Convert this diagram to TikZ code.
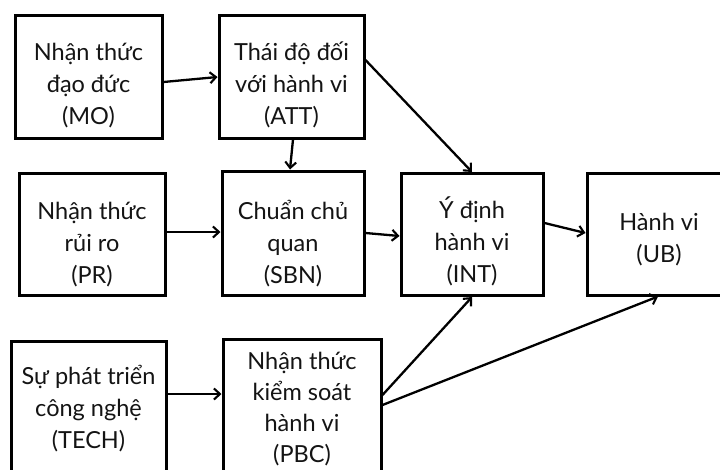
\documentclass[tikz,border=0pt]{standalone}
\usepackage{fontspec}
\setmainfont{Lato}
\usetikzlibrary{arrows.meta}
\definecolor{ink}{HTML}{141414}
% stacked, centred lines whose baseline is the last line
\newcommand\stacklines[1]{\begin{tabular}[b]{@{}c@{}}#1\end{tabular}}
\tikzset{
  box/.style={draw=black, line width=3pt, rectangle, inner sep=0pt,
    text=ink, font=\fontsize{23.5}{32}\selectfont, text depth=0pt},
  link/.style={draw=black, line width=2.3pt, -{Straight Barb[length=6pt,width=11pt,line width=2.1pt]}}
}
\begin{document}
\begin{tikzpicture}[x=1pt,y=-1pt]
\useasboundingbox (0,0) rectangle (720,469);
\fill[white] (0,0) rectangle (720,469);
\begin{scope}
\clip (0,0) rectangle (720,469);
% top row
\node[box, minimum width=147pt, minimum height=123pt, text height=95pt] (MO) at (88.5,76.5) {\stacklines{Nhận thức\\đạo đức\\(MO)}};
\node[box, minimum width=145pt, minimum height=123pt, text height=95pt] (ATT) at (291.5,76.5) {\stacklines{Thái độ đối\\với hành vi\\(ATT)}};
% middle row
\node[box, minimum width=146pt, minimum height=122pt, text height=98pt] (PR) at (92,234) {\stacklines{Nhận thức\\rủi ro\\(PR)}};
\node[box, minimum width=142pt, minimum height=124pt, text height=100pt] (SBN) at (293,233) {\stacklines{Chuẩn chủ\\quan\\(SBN)}};
\node[box, minimum width=142pt, minimum height=122pt, text height=95pt] (INT) at (472,234.5) {\stacklines{Ý định\\hành vi\\(INT)}};
\node[box, minimum width=144pt, minimum height=122pt, text height=56pt] (UB) at (659,234) {\stacklines{Hành vi\\(UB)}};
% bottom row (runs past the lower edge)
\node[box, minimum width=155pt, minimum height=138pt, text height=76pt] (TECH) at (88.5,410) {\stacklines{Sự phát triển\\công nghệ\\(TECH)}};
\node[box, minimum width=158pt, minimum height=140pt, text height=106pt, font=\fontsize{23.5}{31}\selectfont] (PBC) at (302,409) {\stacklines{Nhận thức\\kiểm soát\\hành vi\\(PBC)}};
% connectors
\draw[link] ([yshift=-5.5pt]MO.east) -- ([yshift=-0.5pt]ATT.west);
\draw[link] ([xshift=1.5pt]ATT.south) -- ([xshift=-3pt]SBN.north);
\draw[link] ([yshift=16.5pt]ATT.east) -- (INT.north);
\draw[link] ([yshift=2pt]PR.east) -- ([yshift=1pt]SBN.west);
\draw[link] (SBN.east) -- ([yshift=-1.5pt]INT.west);
\draw[link] ([yshift=11.5pt]INT.east) -- ([yshift=1pt]UB.west);
\draw[link] ([yshift=16pt]TECH.east) -- ([yshift=15pt]PBC.west);
\draw[link] ([yshift=14pt]PBC.east) -- (INT.south);
\draw[link] ([yshift=4pt]PBC.east) -- ([xshift=-1pt]UB.south);
\end{scope}
\end{tikzpicture}
\end{document}
